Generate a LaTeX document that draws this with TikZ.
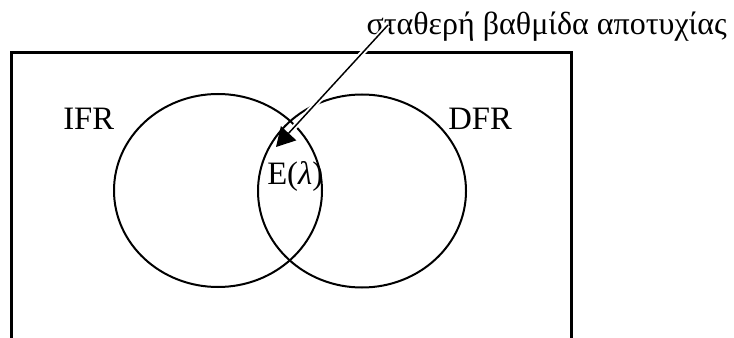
\documentclass[tikz,border=0pt]{standalone}
\usepackage{fontspec}
\setmainfont{Liberation Serif}
\usepackage{tikz}
\usetikzlibrary{positioning,shapes.geometric,arrows.meta}

\tikzset{
  lbl/.style={font=\fontsize{24.5}{28}\selectfont,inner sep=0pt,anchor=base west},
  rate/.style={ellipse,draw,line width=1.5pt,inner sep=0pt,outer sep=0pt,
    minimum width=156pt,minimum height=144.75pt},
}

\begin{document}
\begin{tikzpicture}[x=0.75pt,y=-0.75pt]
  \useasboundingbox (0,0) rectangle (734,338);

  % frame, open at the bottom
  \draw[line width=1.6pt] (11.5,338) -- (11.5,52.5) -- (571.5,52.5) -- (571.5,338);

  \node[rate] (ifr) at (218,190.5) {};
  \node[rate] (dfr) at (362,191) {};

  \node[lbl] (ifrlbl) at (63,130) {IFR};
  \node[lbl] (dfrlbl) at (448,130) {DFR};
  \node[lbl] (elbl) at (267,185) {E(\textit{λ})};
  \node[lbl,anchor=base east,font=\fontsize{24}{28}\selectfont] (const) at (727,35)
    {σταθερή βαθμίδα αποτυχίας};

  \coordinate (arrfrom) at (388,25);
  \coordinate (arrto) at (276,147);
  \draw[line width=1.1pt,-{Triangle[length=14pt,width=15.5pt]},
    preaction={draw,white,line width=4pt,-}] (arrfrom) -- (arrto);
\end{tikzpicture}
\end{document}
